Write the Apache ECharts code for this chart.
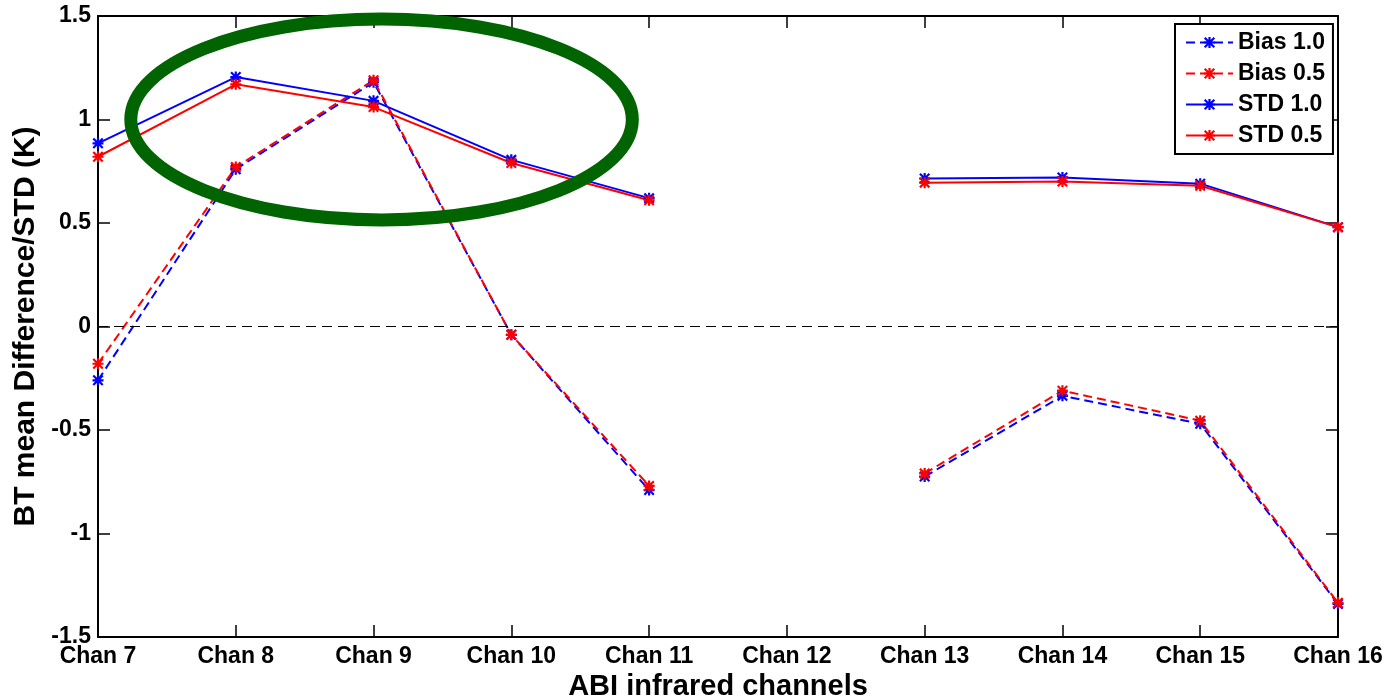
<!DOCTYPE html>
<html>
<head>
<meta charset="utf-8">
<script src="https://cdn.jsdelivr.net/npm/echarts@6/dist/echarts.min.js"></script>
<style>
  html, body { margin: 0; padding: 0; background: #fff; }
  #chart { width: 1386px; height: 698px; }
</style>
</head>
<body>
<div id="chart"></div>
<script>
// channels on the x axis (Chan 12 has no data)
const channels = ['Chan 7', 'Chan 8', 'Chan 9', 'Chan 10', 'Chan 11', 'Chan 12', 'Chan 13', 'Chan 14', 'Chan 15', 'Chan 16']

// in K
const bias10 = [-0.26, 0.76, 1.18, -0.04, -0.79, null, -0.725, -0.335, -0.47, -1.34]
const bias05 = [-0.18, 0.77, 1.19, -0.04, -0.77, null, -0.71, -0.31, -0.455, -1.335]
const std10 = [0.885, 1.205, 1.09, 0.805, 0.62, null, 0.715, 0.72, 0.69, 0.48]
const std05 = [0.82, 1.17, 1.06, 0.79, 0.61, null, 0.695, 0.70, 0.68, 0.48]

const yTicks = [-1.5, -1, -0.5, 0, 0.5, 1, 1.5]

const FONT = "'Liberation Sans', Arial, sans-serif"
// matlab style '*' marker
const STAR = 'path://M4,0H6V10H4Z M0,4H10V6H0Z M1.4,0L10,8.6L8.6,10L0,1.4Z M8.6,0L10,1.4L1.4,10L0,8.6Z'

const chart = echarts.init(document.getElementById('chart'))

const mkSeries = (name, data, color, dashed) => ({
  name,
  type: 'line',
  data,
  symbol: STAR,
  symbolSize: 11,
  showSymbol: true,
  connectNulls: false,
  itemStyle: { color },
  lineStyle: { color, width: 2, type: dashed ? [9, 5] : 'solid' },
  emphasis: { disabled: true },
  animation: false
})

const axisCommon = {
  axisLine: { show: true, onZero: false, lineStyle: { color: '#000', width: 2 } },
  axisTick: { show: true, inside: true, length: 12, lineStyle: { color: '#000', width: 1.5 } },
  splitLine: { show: false }
}

const series = [
  mkSeries('Bias 1.0', bias10, '#0000ff', true),
  mkSeries('Bias 0.5', bias05, '#ff0000', true),
  mkSeries('STD 1.0', std10, '#0000ff', false),
  mkSeries('STD 0.5', std05, '#ff0000', false)
]
// dashed zero line
series[0].markLine = {
  silent: true,
  symbol: 'none',
  label: { show: false },
  lineStyle: { color: '#000', width: 1, type: [10, 6] },
  data: [{ yAxis: 0 }]
}

chart.setOption({
  backgroundColor: '#fff',
  animation: false,
  grid: { left: 98, right: 48, top: 16, bottom: 61, containLabel: false, outerBoundsMode: 'none' },
  xAxis: [
    {
      ...axisCommon,
      type: 'category',
      data: channels,
      boundaryGap: false,
      name: 'ABI infrared channels',
      nameLocation: 'middle',
      nameGap: 31,
      nameTextStyle: { fontFamily: FONT, fontWeight: 'bold', fontSize: 29, color: '#000' },
      axisTick: { ...axisCommon.axisTick, interval: 0 },
      axisLabel: { interval: 0, margin: 8, fontFamily: FONT, fontWeight: 'bold', fontSize: 23, color: '#000' }
    },
    {
      ...axisCommon,
      type: 'category',
      data: channels,
      boundaryGap: false,
      position: 'top',
      axisTick: { ...axisCommon.axisTick, interval: 0 },
      axisLabel: { show: false }
    }
  ],
  yAxis: [
    {
      ...axisCommon,
      type: 'value',
      min: yTicks[0],
      max: yTicks[yTicks.length - 1],
      interval: 0.5,
      name: 'BT mean Difference/STD (K)',
      nameLocation: 'middle',
      nameRotate: 90,
      nameGap: 55,
      nameTextStyle: { fontFamily: FONT, fontWeight: 'bold', fontSize: 30, color: '#000' },
      axisLabel: { margin: 7, fontFamily: FONT, fontWeight: 'bold', fontSize: 23, color: '#000' }
    },
    {
      ...axisCommon,
      type: 'value',
      position: 'right',
      min: yTicks[0],
      max: yTicks[yTicks.length - 1],
      interval: 0.5,
      axisLabel: { show: false }
    }
  ],
  legend: {
    left: 1175,
    top: 24,
    orient: 'vertical',
    itemWidth: 47,
    itemHeight: 14,
    itemGap: 8,
    padding: [7, 8, 7, 10],
    borderColor: '#000',
    borderWidth: 2,
    backgroundColor: '#fff',
    selectedMode: false,
    textStyle: { fontFamily: FONT, fontWeight: 'bold', fontSize: 23, color: '#000' },
    data: ['Bias 1.0', 'Bias 0.5', 'STD 1.0', 'STD 0.5']
  },
  series
})

// green ellipse highlighting the top-left region (annotation)
const ellipseAt = { x: 'Chan 9', y: 1.0, rxSteps: 1.82, ryValue: 0.485 }
const c = chart.convertToPixel({ xAxisIndex: 0, yAxisIndex: 0 }, [ellipseAt.x, ellipseAt.y])
const c2 = chart.convertToPixel({ xAxisIndex: 0, yAxisIndex: 0 }, ['Chan 10', ellipseAt.y + ellipseAt.ryValue])
const step = c2[0] - c[0]
chart.setOption({
  graphic: [{
    type: 'ellipse',
    z: 100,
    silent: true,
    shape: { cx: c[0] + 8, cy: c[1], rx: step * ellipseAt.rxSteps, ry: c[1] - c2[1] },
    style: { fill: 'none', stroke: '#006400', lineWidth: 13 }
  }]
})
</script>
</body>
</html>
